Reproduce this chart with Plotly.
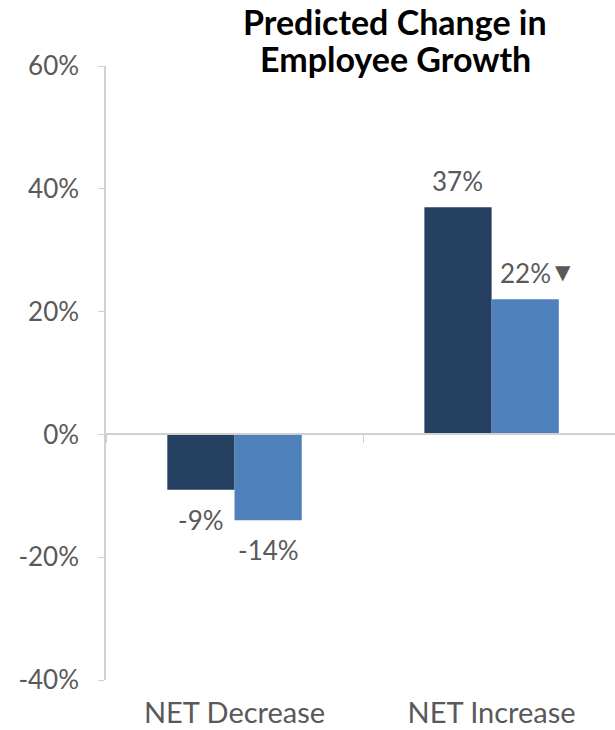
import plotly.graph_objects as go

categories = ["NET Decrease", "NET Increase"]
series_a = [-9, 37]   # dark series
series_b = [-14, 22]  # light series
trend_flags_b = ["", "▼"]  # marker next to light-series label
y_ticks = [-40, -20, 0, 20, 40, 60]
y_tick_text = [f"{v}%" for v in y_ticks]
title_lines = ["Predicted Change in", "Employee Growth"]

DARK = "#243F60"
LIGHT = "#4F81BD"
GREY = "#595959"
AXIS = "#D0D0D0"
FONT = "Lato, 'Liberation Sans', sans-serif"

bargap = 0.477
w = (1 - bargap) / 2

fig = go.Figure()
fig.add_bar(x=categories, y=series_a, marker=dict(color=DARK, line=dict(width=0)), name="A")
fig.add_bar(x=categories, y=series_b, marker=dict(color=LIGHT, line=dict(width=0)), name="B")

def add_labels(vals, offset, flags=None):
    for i, v in enumerate(vals):
        fig.add_annotation(x=i + offset, y=v, xref="x", yref="y",
                           text=f"{v}%", showarrow=False,
                           yshift=26 if v >= 0 else -30,
                           font=dict(family=FONT, size=26, color=GREY))
        if flags and flags[i]:
            fig.add_annotation(x=i + offset, y=v, xref="x", yref="y",
                               text=flags[i], showarrow=False,
                               xshift=38, yshift=27 if v >= 0 else -30,
                               font=dict(family="DejaVu Sans", size=20, color=GREY))

add_labels(series_a, -w / 2)
add_labels(series_b, w / 2, trend_flags_b)

for k, line in enumerate(title_lines):
    fig.add_annotation(text=f"<b>{line}</b>",
                       x=(395 - 106) / 509, xref="paper", xanchor="center",
                       y=1 + (66 - 22 - 36 * k) / 614, yref="paper", yanchor="middle",
                       showarrow=False,
                       font=dict(family=FONT, size=34, color="black"))

fig.update_layout(
    width=615, height=730,
    margin=dict(l=106, r=0, t=66, b=50),
    paper_bgcolor="white", plot_bgcolor="white",
    barmode="group", bargap=bargap, bargroupgap=0,
    showlegend=False,
    yaxis=dict(range=[-40, 60], tickmode="array", tickvals=y_ticks, ticktext=y_tick_text,
               showgrid=False, zeroline=False,
               showline=True, linecolor=AXIS, linewidth=1.5,
               ticks="outside", ticklen=6, tickcolor=AXIS,
               ticklabelstandoff=14,
               tickfont=dict(family=FONT, size=26, color=GREY)),
    xaxis=dict(type="category", range=[-0.5, 1.48],
               anchor="free", position=0.4,
               showgrid=False, zeroline=False,
               showline=True, linecolor=AXIS, linewidth=1.5,
               ticks="outside", tickson="boundaries", ticklen=8, tickcolor=AXIS,
               ticklabelstandoff=253, automargin=False,
               tickfont=dict(family=FONT, size=29, color=GREY)),
)

fig.write_html("out.html")
